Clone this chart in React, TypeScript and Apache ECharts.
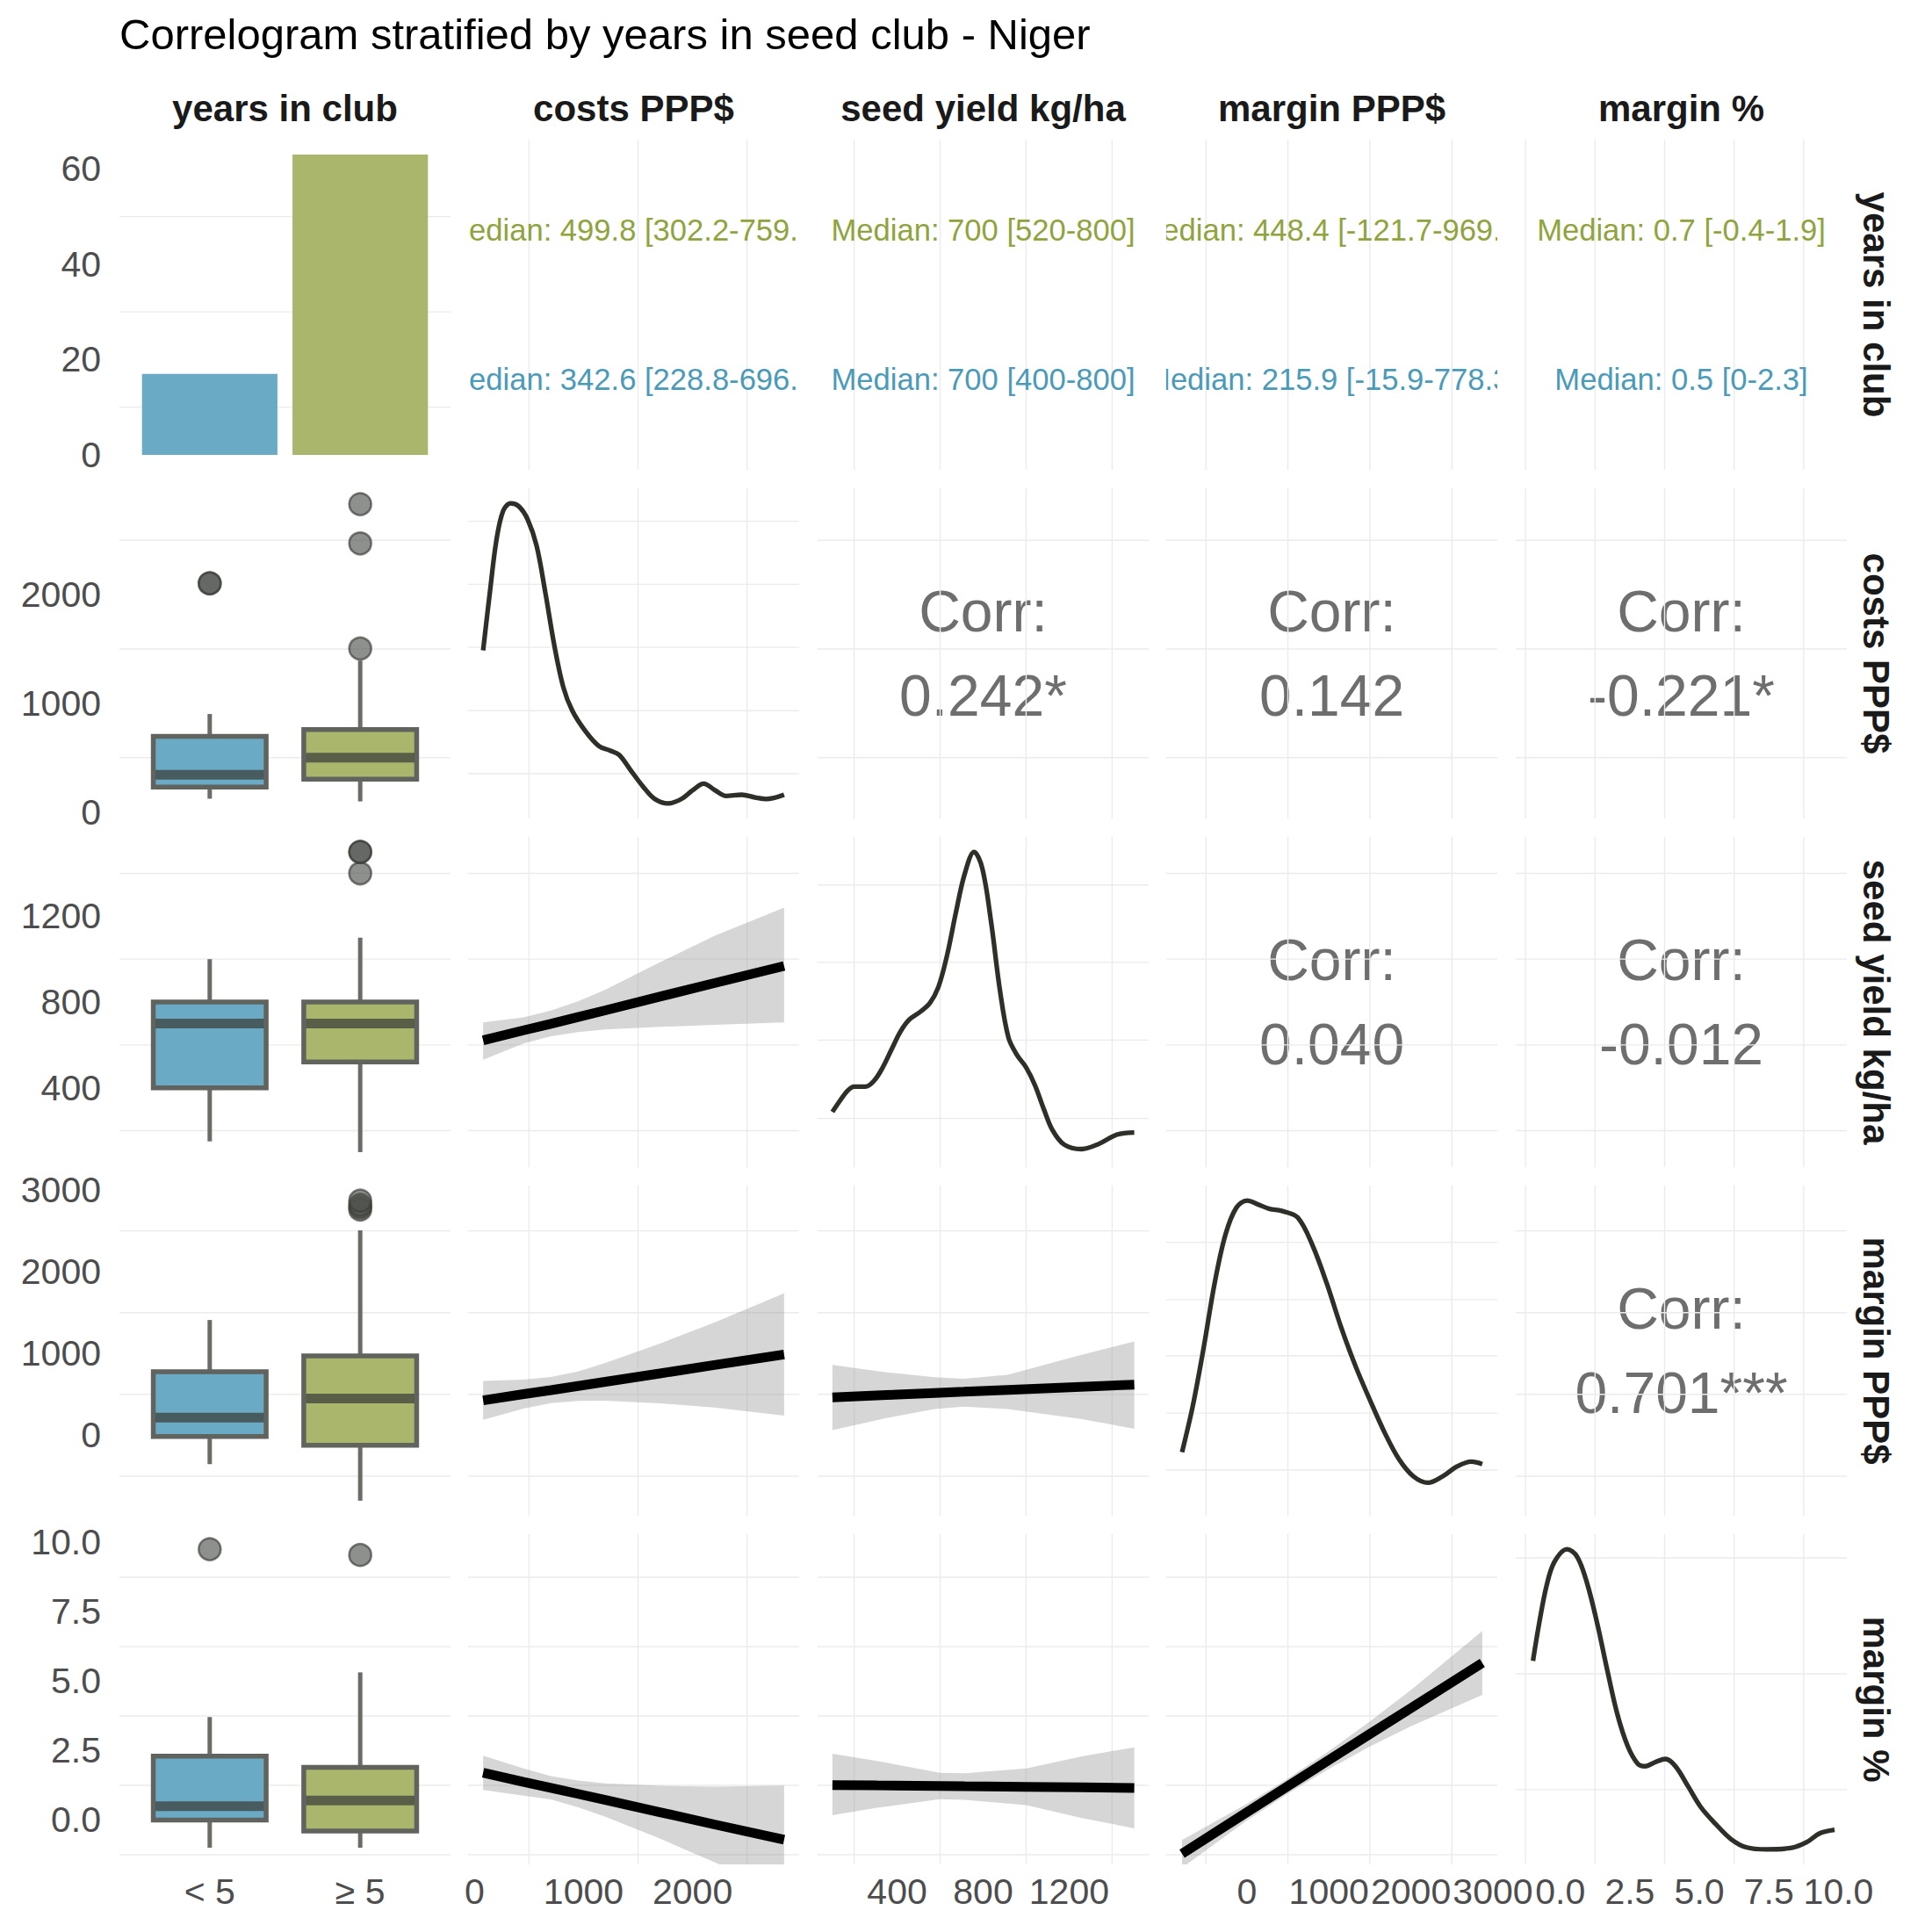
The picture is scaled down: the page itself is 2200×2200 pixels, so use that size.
import React, { useEffect, useRef } from "react";
import * as echarts from "echarts";

const FONT = "'Liberation Sans', Arial, Helvetica, sans-serif";

const TITLE = "Correlogram stratified by years in seed club - Niger";
const varNames = ["years in club", "costs PPP$", "seed yield kg/ha", "margin PPP$", "margin %"];

// ---- groups ----
const groupNames = ["< 5", "≥ 5"];
const groupPos = [1, 2];
const groupRange = [0.4, 2.6];
const groupFill = ["#6AAAC4", "#A9B66B"];
const groupTextColor = ["#4A9AB8", "#8FA33E"];
const groupCounts = [17, 63];

// ---- axis scales ----
const countRange = [-3.15, 66.15];
const countTicks = [0, 20, 40, 60];
const countMinor = [10, 30, 50];

const costsRange = [-59, 2978];
const costsTicks = [0, 1000, 2000];
const costsMinor = [500, 1500, 2500];

const seedRange = [30, 1570];
const seedTicks = [400, 800, 1200];
const seedMinor = [200, 600, 1000, 1400];

const marginRange = [-984, 3054];
const marginTicks = [0, 1000, 2000, 3000];
const marginMinor = [-500, 500, 1500, 2500];

const pctRange = [-1.6, 10.3];
const pctTicks = [0, 2.5, 5, 7.5, 10];
const pctMinor = [-1.25, 1.25, 3.75, 6.25, 8.75];

const densityRange = [-0.05, 1.05];

// ---- boxplots: [lower whisker, Q1, median, Q3, upper whisker] ----
const costsBox = [[123, 228.8, 342.6, 696.5, 902], [98, 302.2, 499.8, 759.5, 1393]];
const costsOutliers = [[2102, 2105], [1504, 2471, 2832]];
const seedBox = [[150, 400, 700, 800, 1000], [100, 520, 700, 800, 1100]];
const seedOutliers = [[], [1400, 1500, 1500]];
const marginBox = [[-353, -15.9, 215.9, 778.3, 1410], [-800, -121.7, 448.4, 969.5, 2505]];
const marginOutliers = [[], [2760, 2790, 2820, 2870]];
const pctBox = [[-1.0, 0, 0.5, 2.3, 3.71], [-1.0, -0.4, 0.7, 1.9, 5.32]];
const pctOutliers = [[9.76], [9.55]];

// ---- median texts (top row) ----
const costsMedianText = ["Median: 342.6 [228.8-696.5]", "Median: 499.8 [302.2-759.5]"];
const seedMedianText = ["Median: 700 [400-800]", "Median: 700 [520-800]"];
const marginMedianText = ["Median: 215.9 [-15.9-778.3]", "Median: 448.4 [-121.7-969.5]"];
const pctMedianText = ["Median: 0.5 [0-2.3]", "Median: 0.7 [-0.4-1.9]"];

// ---- densities (relative height) ----
const costsDensX = [79, 140, 201, 263, 332, 406, 488, 570, 651, 733, 815, 897, 1019, 1142, 1244, 1326, 1428, 1551, 1653, 1776, 1899, 2001, 2103, 2206, 2308, 2451, 2574, 2676, 2840];
const costsDensY = [0.51, 0.7, 0.877, 0.975, 1.0, 0.99, 0.946, 0.858, 0.7, 0.525, 0.387, 0.309, 0.24, 0.191, 0.176, 0.162, 0.113, 0.054, 0.015, 0, 0.015, 0.044, 0.066, 0.044, 0.025, 0.029, 0.02, 0.015, 0.029];
const seedDensX = [99, 136, 170, 200, 252, 293, 333, 374, 415, 456, 503, 551, 592, 633, 673, 714, 758, 796, 837, 878, 918, 959, 1000, 1041, 1082, 1122, 1177, 1258, 1340, 1422, 1503];
const seedDensY = [0.134, 0.173, 0.205, 0.218, 0.218, 0.238, 0.282, 0.342, 0.401, 0.441, 0.465, 0.495, 0.55, 0.658, 0.797, 0.926, 1.0, 0.946, 0.767, 0.54, 0.381, 0.322, 0.282, 0.223, 0.144, 0.074, 0.025, 0.01, 0.028, 0.058, 0.065];
const marginDensX = [-791, -659, -526, -394, -262, -129, 3, 135, 268, 444, 621, 797, 974, 1150, 1327, 1503, 1680, 1856, 2032, 2209, 2386, 2562, 2739, 2871];
const marginDensY = [0.162, 0.317, 0.512, 0.724, 0.886, 0.976, 1.0, 0.987, 0.973, 0.964, 0.943, 0.853, 0.724, 0.577, 0.447, 0.334, 0.227, 0.138, 0.081, 0.06, 0.081, 0.114, 0.13, 0.122];
const pctDensX = [-0.98, -0.76, -0.49, -0.22, 0.24, 0.6, 0.96, 1.33, 1.69, 2.05, 2.42, 2.78, 3.05, 3.42, 3.78, 4.14, 4.6, 5.05, 5.6, 6.14, 6.68, 7.41, 8.32, 8.86, 9.32, 9.86];
const pctDensY = [0.628, 0.752, 0.879, 0.956, 1.0, 0.976, 0.888, 0.752, 0.597, 0.451, 0.345, 0.286, 0.277, 0.291, 0.301, 0.277, 0.209, 0.141, 0.083, 0.034, 0.007, 0, 0.005, 0.024, 0.053, 0.065];

const costsDensGrid = [0.099, 0.309, 0.52, 0.73, 0.94];
const seedDensGrid = [0.112, 0.373, 0.632, 0.89];
const marginDensGrid = [0.102, 0.292, 0.483, 0.67, 0.861];
const pctDensGrid = [0.199, 0.585, 0.971];

// ---- linear fits with confidence bands ----
const costsX = [79, 450, 700, 950, 1200, 1700, 2200, 2840];
const seedOnCostsFit = [621, 668, 698, 730, 761, 825, 888, 968];
const seedOnCostsUpper = [705, 728, 760, 803, 857, 985, 1108, 1240];
const seedOnCostsLower = [531, 606, 640, 660, 672, 684, 693, 705];
const marginOnCostsFit = [427, 503, 552, 603, 654, 756, 859, 988];
const marginOnCostsUpper = [664, 680, 712, 780, 884, 1121, 1379, 1735];
const marginOnCostsLower = [190, 326, 392, 420, 424, 391, 339, 241];
const pctOnCostsFit = [1.7, 1.37, 1.16, 0.94, 0.72, 0.28, -0.16, -0.71];
const pctOnCostsUpper = [2.32, 1.86, 1.58, 1.42, 1.32, 1.23, 1.2, 1.24];
const pctOnCostsLower = [1.08, 0.88, 0.74, 0.46, 0.12, -0.67, -1.52, -2.66];

const seedXa = [99, 350, 574, 710, 914, 1254, 1503];
const marginOnSeedFit = [464, 492, 517, 532, 555, 593, 620];
const marginOnSeedUpper = [860, 770, 710, 692, 740, 980, 1149];
const marginOnSeedLower = [62, 210, 320, 350, 320, 200, 80];

const seedXb = [99, 306, 600, 714, 1000, 1260, 1503];
const pctOnSeedFit = [1.26, 1.245, 1.224, 1.215, 1.195, 1.176, 1.155];
const pctOnSeedUpper = [2.39, 2.13, 1.7, 1.68, 1.86, 2.29, 2.62];
const pctOnSeedLower = [0.17, 0.44, 0.75, 0.73, 0.54, 0.066, -0.3];

const marginX = [-791, 0, 500, 1000, 1500, 2000, 2871];
const pctOnMarginFit = [-1.22, 0.28, 1.22, 2.16, 3.1, 4.03, 5.66];
const pctOnMarginUpper = [-0.72, 0.58, 1.49, 2.48, 3.55, 4.68, 6.81];
const pctOnMarginLower = [-1.72, -0.02, 0.95, 1.84, 2.65, 3.38, 4.51];

// ---- correlations ----
const corrRows = [1, 1, 1, 2, 2, 3];
const corrCols = [2, 3, 4, 3, 4, 4];
const corrLabels = ["0.242*", "0.142", "-0.221*", "0.040", "-0.012", "0.701***"];

// ---- layout ----
const colLeft = [136, 533, 931, 1328, 1726];
const rowTop = [159, 556, 953, 1350, 1747];
const PW = 377;
const PH = 376;

type AxisInfo = { range: number[]; ticks: number[]; minor: number[]; fmt: (v: number) => string };

const groupAxis: AxisInfo = { range: groupRange, ticks: groupPos, minor: [], fmt: (v) => groupNames[groupPos.indexOf(Math.round(v))] || "" };
const countAxis: AxisInfo = { range: countRange, ticks: countTicks, minor: countMinor, fmt: (v) => String(v) };
const costsAxis: AxisInfo = { range: costsRange, ticks: costsTicks, minor: costsMinor, fmt: (v) => String(v) };
const seedAxis: AxisInfo = { range: seedRange, ticks: seedTicks, minor: seedMinor, fmt: (v) => String(v) };
const marginAxis: AxisInfo = { range: marginRange, ticks: marginTicks, minor: marginMinor, fmt: (v) => String(v) };
const pctAxis: AxisInfo = { range: pctRange, ticks: pctTicks, minor: pctMinor, fmt: (v) => v.toFixed(1) };
const densAxis: AxisInfo = { range: densityRange, ticks: [], minor: [], fmt: (v) => String(v) };

const varAxes = [groupAxis, costsAxis, seedAxis, marginAxis, pctAxis];
const boxes = [null, costsBox, seedBox, marginBox, pctBox];
const outliers = [null, costsOutliers, seedOutliers, marginOutliers, pctOutliers];
const medianTexts = [null, costsMedianText, seedMedianText, marginMedianText, pctMedianText];
const densX = [null, costsDensX, seedDensX, marginDensX, pctDensX];
const densY = [null, costsDensY, seedDensY, marginDensY, pctDensY];
const densGrid = [null, costsDensGrid, seedDensGrid, marginDensGrid, pctDensGrid];

const lmPanels = [
  { r: 2, c: 1, x: costsX, fit: seedOnCostsFit, up: seedOnCostsUpper, lo: seedOnCostsLower },
  { r: 3, c: 1, x: costsX, fit: marginOnCostsFit, up: marginOnCostsUpper, lo: marginOnCostsLower },
  { r: 4, c: 1, x: costsX, fit: pctOnCostsFit, up: pctOnCostsUpper, lo: pctOnCostsLower },
  { r: 3, c: 2, x: seedXa, fit: marginOnSeedFit, up: marginOnSeedUpper, lo: marginOnSeedLower },
  { r: 4, c: 2, x: seedXb, fit: pctOnSeedFit, up: pctOnSeedUpper, lo: pctOnSeedLower },
  { r: 4, c: 3, x: marginX, fit: pctOnMarginFit, up: pctOnMarginUpper, lo: pctOnMarginLower },
];

function makeAxis(g: number, info: AxisInfo, show: boolean, dim: "x" | "y") {
  return {
    gridIndex: g,
    type: "value",
    min: info.range[0],
    max: info.range[1],
    axisLine: { show: false },
    axisTick: { show: false },
    splitLine: { show: false },
    minorSplitLine: { show: false },
    axisLabel: show
      ? {
          show: true,
          customValues: info.ticks,
          formatter: (v: number) => info.fmt(v),
          fontSize: 41,
          color: "#4D4D4D",
          fontFamily: FONT,
          margin: dim === "x" ? 10 : 21,
          hideOverlap: false,
        }
      : { show: false },
  };
}

function gridSeries(g: number, xr: number[], yr: number[], vert: number[], horiz: number[]) {
  const xm = (xr[0] + xr[1]) / 2;
  const ym = (yr[0] + yr[1]) / 2;
  const data = [...vert.map((v) => [v, ym, 0]), ...horiz.map((v) => [xm, v, 1])];
  return {
    type: "custom",
    xAxisIndex: g,
    yAxisIndex: g,
    z: 1,
    silent: true,
    encode: { x: 0, y: 1 },
    data,
    renderItem: (params: any, api: any) => {
      const dir = api.value(2);
      let p1, p2;
      if (dir === 0) {
        const v = api.value(0);
        p1 = api.coord([v, yr[0]]);
        p2 = api.coord([v, yr[1]]);
      } else {
        const v = api.value(1);
        p1 = api.coord([xr[0], v]);
        p2 = api.coord([xr[1], v]);
      }
      return {
        type: "line",
        shape: { x1: p1[0], y1: p1[1], x2: p2[0], y2: p2[1] },
        style: { stroke: "#EBEBEB", lineWidth: 1.4 },
      };
    },
  };
}

function buildOption() {
  const grids: any[] = [];
  const xAxes: any[] = [];
  const yAxes: any[] = [];
  const series: any[] = [];
  const graphics: any[] = [];

  for (let r = 0; r < 5; r++) {
    for (let c = 0; c < 5; c++) {
      const g = r * 5 + c;
      grids.push({ left: colLeft[c], top: rowTop[r], width: PW, height: PH, containLabel: false, outerBoundsMode: "none" });
      const xa = varAxes[c];
      const ya = r === 0 ? (c === 0 ? countAxis : groupAxis) : r === c ? densAxis : varAxes[r];
      xAxes.push(makeAxis(g, xa, r === 4, "x"));
      yAxes.push(makeAxis(g, ya, c === 0, "y"));

      const vert: number[] = c > 0 ? xa.minor : [];
      let horiz: number[] = [];
      if (r === 0 && c === 0) horiz = countMinor;
      else if (r === 0) horiz = [];
      else if (r === c) horiz = densGrid[r] as number[];
      else horiz = ya.minor;
      series.push(gridSeries(g, xa.range, ya.range, vert, horiz));

      // bars
      if (r === 0 && c === 0) {
        series.push({
          type: "custom",
          xAxisIndex: g,
          yAxisIndex: g,
          z: 3,
          silent: true,
          data: groupPos.map((x, i) => [x, groupCounts[i]]),
          renderItem: (params: any, api: any) => {
            const x = api.value(0);
            const v = api.value(1);
            const p0 = api.coord([x - 0.45, 0]);
            const p1 = api.coord([x + 0.45, v]);
            return {
              type: "rect",
              shape: { x: p0[0], y: p1[1], width: p1[0] - p0[0], height: p0[1] - p1[1] },
              style: { fill: groupFill[params.dataIndex] },
            };
          },
        });
      }

      // median texts
      if (r === 0 && c > 0) {
        const texts = medianTexts[c] as string[];
        const xm = (xa.range[0] + xa.range[1]) / 2;
        series.push({
          type: "custom",
          xAxisIndex: g,
          yAxisIndex: g,
          z: 5,
          silent: true,
          clip: true,
          data: groupPos.map((y, i) => [xm, y, i]),
          renderItem: (params: any, api: any) => {
            const p = api.coord([api.value(0), api.value(1)]);
            const i = params.dataIndex;
            return {
              type: "text",
              x: p[0],
              y: p[1],
              style: {
                text: texts[i],
                fill: groupTextColor[i],
                fontSize: 34.6,
                fontFamily: FONT,
                align: "center",
                verticalAlign: "middle",
                textAlign: "center",
                textVerticalAlign: "middle",
              },
            };
          },
        });
      }

      // boxplots
      if (c === 0 && r > 0) {
        const bx = boxes[r] as number[][];
        series.push({
          type: "custom",
          xAxisIndex: g,
          yAxisIndex: g,
          z: 3,
          silent: true,
          encode: { x: 0, y: [1, 2, 3, 4, 5] },
          data: groupPos.map((x, i) => [x, ...bx[i]]),
          renderItem: (params: any, api: any) => {
            const x = api.value(0);
            const low = api.value(1), q1 = api.value(2), med = api.value(3), q3 = api.value(4), high = api.value(5);
            const hw = 0.375;
            const tl = api.coord([x - hw, q3]);
            const br = api.coord([x + hw, q1]);
            const pLow = api.coord([x, low]);
            const pQ1 = api.coord([x, q1]);
            const pQ3 = api.coord([x, q3]);
            const pHigh = api.coord([x, high]);
            const mL = api.coord([x - hw, med]);
            const mR = api.coord([x + hw, med]);
            const ws = { stroke: "#6A6C68", lineWidth: 5 };
            return {
              type: "group",
              children: [
                { type: "line", shape: { x1: pLow[0], y1: pLow[1], x2: pQ1[0], y2: pQ1[1] }, style: ws },
                { type: "line", shape: { x1: pQ3[0], y1: pQ3[1], x2: pHigh[0], y2: pHigh[1] }, style: ws },
                {
                  type: "rect",
                  shape: { x: tl[0], y: tl[1], width: br[0] - tl[0], height: br[1] - tl[1] },
                  style: { fill: groupFill[params.dataIndex], stroke: "#60635E", lineWidth: 5.5 },
                },
                {
                  type: "line",
                  shape: { x1: mL[0] + 2.5, y1: mL[1], x2: mR[0] - 2.5, y2: mR[1] },
                  style: { stroke: "rgba(62,64,60,0.75)", lineWidth: 11 },
                },
              ],
            };
          },
        });
        const out = outliers[r] as number[][];
        const pts: number[][] = [];
        out.forEach((arr, i) => arr.forEach((v) => pts.push([groupPos[i], v])));
        series.push({
          type: "scatter",
          xAxisIndex: g,
          yAxisIndex: g,
          z: 4,
          silent: true,
          symbolSize: 25,
          itemStyle: { color: "rgba(79,81,76,0.8)", borderColor: "rgba(60,62,58,0.85)", borderWidth: 2.5 },
          data: pts,
        });
      }

      // densities
      if (r === c && r > 0) {
        const dx = densX[r] as number[];
        const dy = densY[r] as number[];
        series.push({
          type: "line",
          xAxisIndex: g,
          yAxisIndex: g,
          z: 3,
          silent: true,
          smooth: 0.35,
          symbol: "none",
          showSymbol: false,
          lineStyle: { color: "#2F2F2A", width: 5.3 },
          data: dx.map((x, i) => [x, dy[i]]),
        });
      }
    }
  }

  // linear fits with confidence bands
  lmPanels.forEach((p) => {
    const g = p.r * 5 + p.c;
    series.push({
      type: "custom",
      xAxisIndex: g,
      yAxisIndex: g,
      z: 2,
      silent: true,
      clip: true,
      encode: { x: 0, y: 1 },
      data: p.x.map((x, i) => [x, p.fit[i]]).slice(0, 1),
      renderItem: (params: any, api: any) => {
        const pts: number[][] = [];
        p.x.forEach((x, i) => pts.push(api.coord([x, p.up[i]])));
        for (let i = p.x.length - 1; i >= 0; i--) pts.push(api.coord([p.x[i], p.lo[i]]));
        return {
          type: "polygon",
          shape: { points: pts },
          style: { fill: "rgba(153,153,153,0.4)" },
        };
      },
    });
    series.push({
      type: "line",
      xAxisIndex: g,
      yAxisIndex: g,
      z: 3,
      silent: true,
      symbol: "none",
      showSymbol: false,
      lineStyle: { color: "#000000", width: 11, cap: "butt" },
      data: p.x.map((x, i) => [x, p.fit[i]]),
    });
  });

  // correlation texts
  corrLabels.forEach((lab, k) => {
    const cx = colLeft[corrCols[k]] + PW / 2;
    const cy = rowTop[corrRows[k]] + PH / 2;
    [
      ["Corr:", cy - 48],
      [lab, cy + 48],
    ].forEach(([t, y]) => {
      graphics.push({
        type: "text",
        x: cx,
        y: y as number,
        silent: true,
        style: {
          text: t as string,
          fill: "#6E6E6E",
          fontSize: 66,
          fontFamily: FONT,
          align: "center",
          verticalAlign: "middle",
          textAlign: "center",
          textVerticalAlign: "middle",
        },
      });
    });
  });

  // strips
  varNames.forEach((name, i) => {
    graphics.push({
      type: "text",
      x: colLeft[i] + PW / 2,
      y: 123,
      silent: true,
      style: {
        text: name,
        fill: "#1A1A1A",
        fontSize: 42,
        fontWeight: "bold",
        fontFamily: FONT,
        align: "center",
        verticalAlign: "middle",
        textAlign: "center",
        textVerticalAlign: "middle",
      },
    });
    graphics.push({
      type: "text",
      x: 2136,
      y: rowTop[i] + PH / 2,
      rotation: -Math.PI / 2,
      silent: true,
      style: {
        text: name,
        fill: "#1A1A1A",
        fontSize: 42,
        fontWeight: "bold",
        fontFamily: FONT,
        align: "center",
        verticalAlign: "middle",
        textAlign: "center",
        textVerticalAlign: "middle",
      },
    });
  });

  return {
    animation: false,
    backgroundColor: "#FFFFFF",
    title: {
      text: TITLE,
      left: 136,
      top: 14,
      padding: 0,
      textStyle: { fontSize: 49, fontWeight: "normal", color: "#000000", fontFamily: FONT },
    },
    grid: grids,
    xAxis: xAxes,
    yAxis: yAxes,
    series,
    graphic: graphics,
  };
}

export default function App() {
  const ref = useRef<HTMLDivElement>(null);
  useEffect(() => {
    document.body.style.margin = "0";
    const chart = echarts.init(ref.current as HTMLDivElement, null, { renderer: "svg" });
    chart.setOption(buildOption() as any);
    return () => chart.dispose();
  }, []);
  return (
    <div
      ref={ref}
      style={{ width: 2200, height: 2200, position: "absolute", left: 0, top: 0, background: "#FFFFFF" }}
    />
  );
}
